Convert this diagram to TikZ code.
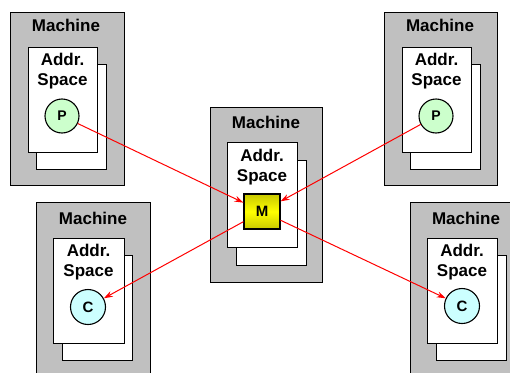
\documentclass[tikz,border=0pt]{standalone}
\usepackage{fontspec}
\setmainfont{Liberation Sans}
\usetikzlibrary{arrows.meta}
\definecolor{mgray}{HTML}{C0C0C0}
\definecolor{pgreen}{HTML}{CCFFCC}
\definecolor{ccyan}{HTML}{CCFFFF}
\definecolor{mdark}{HTML}{C8C800}
\tikzset{
  machine/.style={draw=black, line width=1.1pt, fill=mgray, anchor=north west, inner sep=0pt},
  page/.style={draw=black, line width=1.1pt, fill=white, anchor=north west, inner sep=0pt, minimum width=70pt, minimum height=105pt},
  lbl/.style={font=\fontsize{17}{19.5}\selectfont\bfseries, align=center, inner sep=0pt},
  pnode/.style={circle, draw=black, line width=1.1pt, fill=pgreen, minimum size=34pt, inner sep=0pt, font=\fontsize{14}{16}\selectfont\bfseries},
  cnode/.style={circle, draw=black, line width=1.1pt, fill=ccyan, minimum size=35pt, inner sep=0pt, font=\fontsize{15}{17}\selectfont\bfseries},
  mnode/.style={rectangle, draw=black, line width=1.1pt, top color=mdark, bottom color=mdark, middle color=yellow, minimum width=36pt, minimum height=35pt, inner sep=0pt, font=\fontsize{15}{17}\selectfont\bfseries},
  link/.style={draw=red, line width=1pt, -{Stealth[length=9pt,width=6pt]}}
}
\begin{document}
\begin{tikzpicture}[x=1pt,y=-1pt]
\useasboundingbox (0,0) rectangle (510,372);
\clip (0,0) rectangle (510,372);
% top-left machine
\node[machine, minimum width=114pt, minimum height=173pt] (m1) at (10,12) {};
\node[lbl] (m1t) at (66,25) {Machine};
\node[page] (m1b) at (36,64) {};
\node[page, minimum width=69pt] (m1f) at (28,47) {};
\node[lbl] (m1a) at (62.5,71) {Addr.\\Space};
\node[pnode] (p1) at (62,116) {P};
% top-right machine
\node[machine, minimum width=113pt, minimum height=173pt] (m2) at (384,12) {};
\node[lbl] (m2t) at (440,25) {Machine};
\node[page] (m2b) at (410,64) {};
\node[page, minimum width=69pt] (m2f) at (402,47) {};
\node[lbl] (m2a) at (436.5,71) {Addr.\\Space};
\node[pnode] (p2) at (436,116) {P};
% center machine
\node[machine, minimum width=112pt, minimum height=175pt] (m3) at (210,107) {};
\node[lbl] (m3t) at (266,122) {Machine};
\node[page] (m3b) at (236,160) {};
\node[page] (m3f) at (227,142) {};
\node[lbl] (m3a) at (262,167) {Addr.\\Space};
\node[mnode] (mm) at (262,211.5) {M};
% bottom-left machine
\node[machine, minimum width=114pt, minimum height=190pt] (m4) at (36,202) {};
\node[lbl] (m4t) at (93,218) {Machine};
\node[page] (m4b) at (62,255) {};
\node[page, minimum width=71pt] (m4f) at (53,238) {};
\node[lbl] (m4a) at (88.5,262) {Addr.\\Space};
\node[cnode] (c1) at (88,307) {C};
% bottom-right machine
\node[machine, minimum width=120pt, minimum height=190pt] (m5) at (410,202) {};
\node[lbl] (m5t) at (466,218) {Machine};
\node[page] (m5b) at (436,255) {};
\node[page] (m5f) at (427,238) {};
\node[lbl] (m5a) at (462,262) {Addr.\\Space};
\node[cnode] (c2) at (462,306) {C};
% links
\draw[link] (p1) -- (mm);
\draw[link] (p2) -- (mm);
\draw[link] (mm) -- (c1);
\draw[link] (mm) -- (c2);
\end{tikzpicture}
\end{document}
